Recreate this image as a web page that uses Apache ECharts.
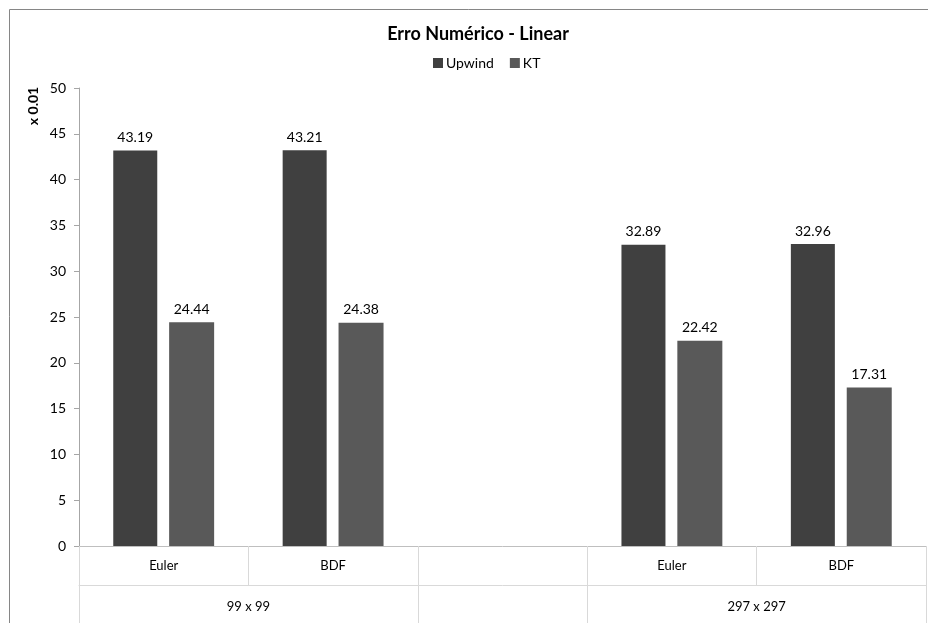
<!DOCTYPE html>
<html>
<head>
<meta charset="utf-8">
<script src="https://cdn.jsdelivr.net/npm/echarts@6/dist/echarts.min.js"></script>
<style>
html,body{margin:0;padding:0;background:#fff;overflow:hidden;}
#chart{width:928px;height:623px;}
</style>
</head>
<body>
<div id="chart"></div>
<script>
const methods = ['Euler', 'BDF', '', 'Euler', 'BDF'];
const groups = ['99 x 99', '297 x 297'];
const groupCenters = [1, 4];
const groupBoundaries = [0, 2, 3, 5];
const upwind = [43.19, 43.21, null, 32.89, 32.96];
const kt = [24.44, 24.38, null, 22.42, 17.31];
const yTicks = {min: 0, max: 50, interval: 5};

const FONT = 'Lato, "Open Sans", sans-serif';
const chart = echarts.init(document.getElementById('chart'), null, {renderer: 'canvas'});
chart.setOption({
  animation: false,
  backgroundColor: '#fff',
  textStyle: {fontFamily: FONT},
  title: {
    text: 'Erro Numérico - Linear',
    left: 473, top: 20, textAlign: 'center',
    textStyle: {fontFamily: FONT, fontSize: 18, fontWeight: 'bold', color: '#000'}
  },
  legend: {
    left: 428, top: 51,
    icon: 'rect', itemWidth: 10, itemHeight: 10, itemGap: 16,
    textStyle: {fontFamily: FONT, fontSize: 14, color: '#000', padding: [0, 0, 0, -2]},
    data: ['Upwind', 'KT']
  },
  grid: {left: 79, right: 2, top: 88, bottom: 77, containLabel: false},
  xAxis: [
    {
      type: 'category', data: methods, position: 'bottom',
      axisLine: {lineStyle: {color: '#bfbfbf'}},
      axisTick: {show: true, length: 39, interval: 0, lineStyle: {color: '#d9d9d9'}},
      splitLine: {show: false},
      axisLabel: {interval: 0, margin: 13, fontSize: 13, color: '#000', fontFamily: FONT}
    },
    {
      type: 'value', min: 0, max: 5, position: 'bottom', offset: 39,
      splitLine: {show: false},
      axisLine: {show: true, lineStyle: {color: '#d9d9d9'}},
      axisTick: {show: true, length: 40, customValues: groupBoundaries, lineStyle: {color: '#d9d9d9'}},
      axisLabel: {
        customValues: groupCenters, margin: 15, fontSize: 13, color: '#000', fontFamily: FONT,
        formatter: function (v) { const i = groupCenters.indexOf(v); return i >= 0 ? groups[i] : ''; }
      }
    }
  ],
  yAxis: {
    type: 'value', min: yTicks.min, max: yTicks.max, interval: yTicks.interval,
    axisLine: {show: true, lineStyle: {color: '#a6a6a6'}},
    axisTick: {show: true, length: 5, lineStyle: {color: '#a6a6a6'}},
    splitLine: {show: false},
    axisLabel: {margin: 13, fontSize: 14, color: '#000', fontFamily: FONT}
  },
  series: [
    {
      name: 'Upwind', type: 'bar', data: upwind, xAxisIndex: 0,
      barWidth: 44, barGap: '27%',
      itemStyle: {color: '#404040'},
      label: {show: true, position: 'top', distance: 6, fontSize: 14, color: '#000', fontFamily: FONT,
        formatter: p => p.value.toFixed(2)}
    },
    {
      name: 'KT', type: 'bar', data: kt, xAxisIndex: 0,
      barWidth: 45,
      itemStyle: {color: '#595959'},
      label: {show: true, position: 'top', distance: 6, fontSize: 14, color: '#000', fontFamily: FONT,
        formatter: p => p.value.toFixed(2)}
    }
  ],
  graphic: [
    {type: 'line', silent: true, shape: {x1: 9.5, y1: 9.5, x2: 928, y2: 9.5},
     style: {stroke: '#868686', lineWidth: 1}},
    {type: 'line', silent: true, shape: {x1: 9.5, y1: 9.5, x2: 9.5, y2: 623},
     style: {stroke: '#868686', lineWidth: 1}},
    {type: 'text', x: 33, y: 106, rotation: Math.PI / 2,
     style: {text: 'x 0.01', font: 'bold 14px ' + FONT, fill: '#000', align: 'center', verticalAlign: 'middle'}}
  ]
});
</script>
</body>
</html>
